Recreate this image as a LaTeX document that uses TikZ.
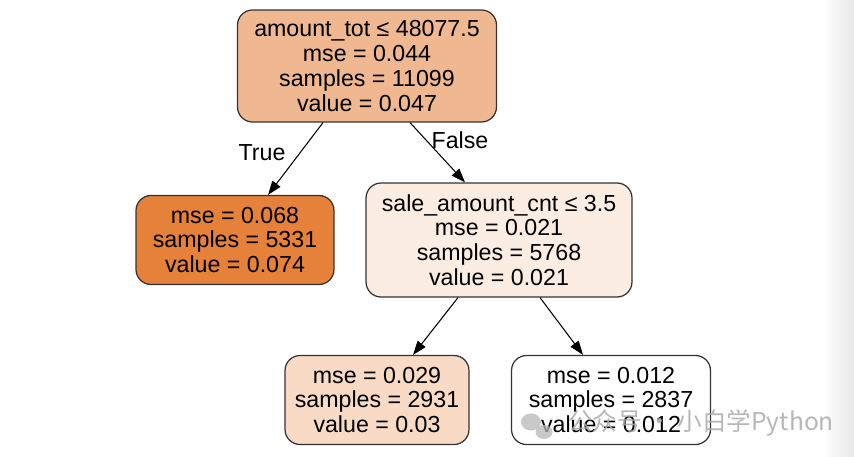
\documentclass[tikz,border=0pt]{standalone}
\usepackage{fontspec}
\setmainfont{Liberation Sans}
\newfontfamily\cjkfont{Noto Sans CJK SC}
\usetikzlibrary{arrows.meta,calc,shadings}
\definecolor{rootfill}{HTML}{F0B890}
\definecolor{hotfill}{HTML}{E58139}
\definecolor{palefill}{HTML}{FBEDE2}
\definecolor{softfill}{HTML}{F8DAC5}
\definecolor{boxline}{HTML}{333333}
\begin{document}
\begin{tikzpicture}[x=0.02cm,y=-0.02cm,
    every node/.style={font=\fontsize{13.2}{14.1}\selectfont},
    treebox/.style={draw=boxline,line width=0.7pt,rounded corners=0.3cm,align=center,inner sep=0pt},
    branch/.style={line width=0.6pt,-{Triangle[length=0.28cm,width=0.2cm]}},
    mark label/.style={inner sep=0pt}]
  \useasboundingbox[fill=white] (0,0) rectangle (854,456);
  % grey strip on the right edge
  \shade[left color=white,right color=black!9,draw=none] (822,0) rectangle (854,456);

  \node[treebox,fill=rootfill,minimum width=5.18cm,minimum height=2.24cm] (root) at (367,66)
    {amount\_tot ≤ 48077.5\\mse = 0.044\\samples = 11099\\value = 0.047};
  \node[treebox,fill=hotfill,minimum width=3.96cm,minimum height=1.78cm] (leftc) at (235,240)
    {mse = 0.068\\samples = 5331\\value = 0.074};
  \node[treebox,fill=palefill,minimum width=5.32cm,minimum height=2.28cm] (rightc) at (499,240)
    {sale\_amount\_cnt ≤ 3.5\\mse = 0.021\\samples = 5768\\value = 0.021};
  \node[treebox,fill=softfill,minimum width=3.68cm,minimum height=1.78cm] (lowl) at (377,400)
    {mse = 0.029\\samples = 2931\\value = 0.03};
  \node[treebox,fill=white,minimum width=3.98cm,minimum height=1.78cm] (lowr) at (611,400)
    {mse = 0.012\\samples = 2837\\value = 0.012};

  \draw[branch] ($(root.south)+(-44,0)$) -- ($(leftc.north)+(33,0)$);
  \draw[branch] ($(root.south)+(43,0)$) -- ($(rightc.north)+(-34,0)$);
  \draw[branch] ($(rightc.south)+(-41,0)$) -- ($(lowl.north)+(36,0)$);
  \draw[branch] ($(rightc.south)+(41,0)$) -- ($(lowr.north)+(-28,0)$);

  \node[mark label] (truelbl) at (262,153) {True};
  \node[mark label] (falselbl) at (460,140) {False};

  % watermark
  \fill[black!28,opacity=0.75] (531,422) ellipse (10 and 8.5);
  \fill[black!28,opacity=0.75] (544,432) ellipse (8.5 and 7);
  \node[text=black!33,opacity=0.85,font=\cjkfont\fontsize{14}{15}\selectfont,anchor=west] (mark) at (562,423)
    {公众号 · 小白学Python};
\end{tikzpicture}
\end{document}
